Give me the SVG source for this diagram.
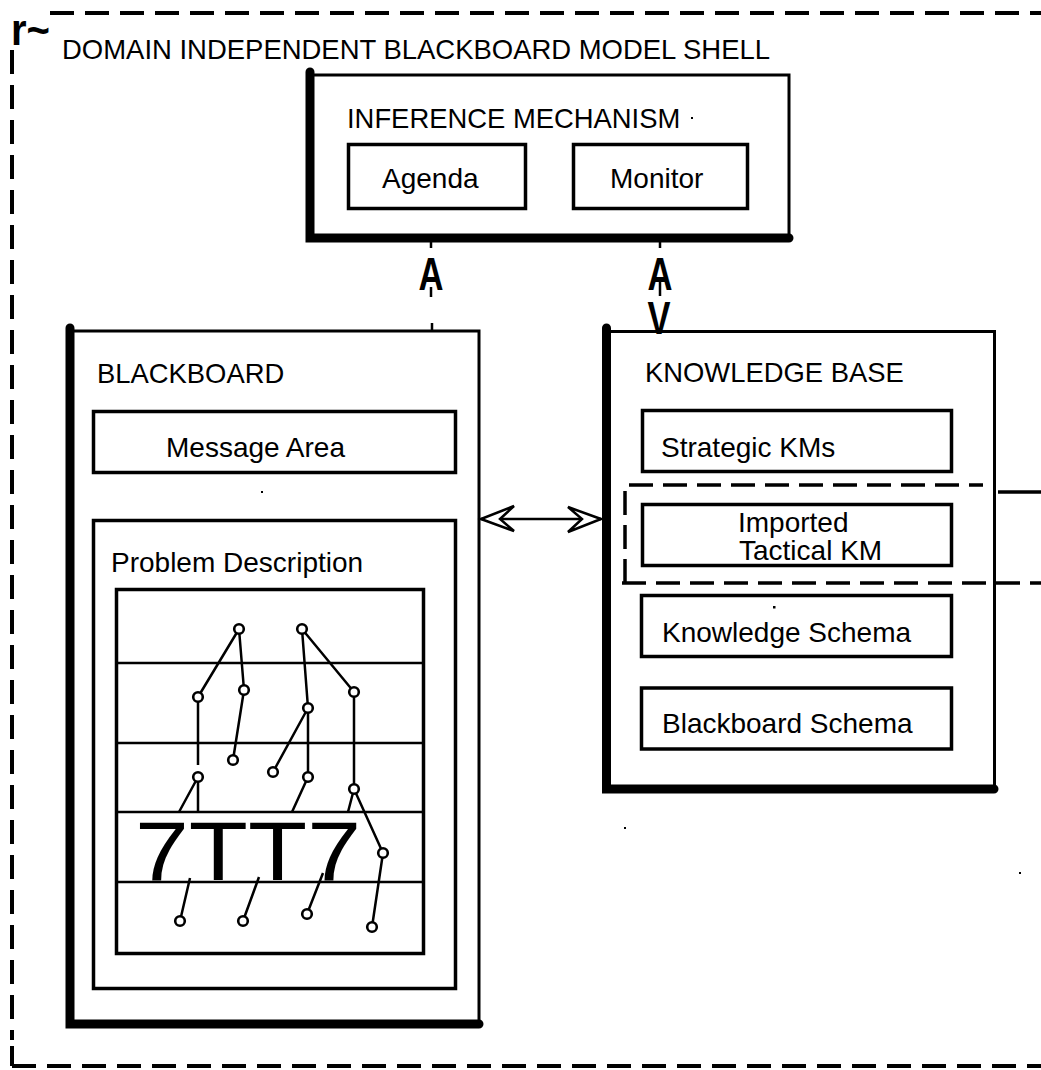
<svg xmlns="http://www.w3.org/2000/svg" width="1041" height="1070" viewBox="0 0 1041 1070">
  <style>
    .frame { fill: none; stroke: #000; stroke-width: 4; stroke-dasharray: 24 11; }
    .dash { fill: none; stroke: #000; stroke-width: 3.5; stroke-dasharray: 24 10; }
    .box { fill: none; stroke: #000; stroke-width: 3; }
    .inner { fill: none; stroke: #000; stroke-width: 3.5; }
    .heavy { fill: none; stroke: #000; stroke-width: 9; stroke-linecap: round; }
    .rule { fill: none; stroke: #000; stroke-width: 2.5; }
    .edge { fill: none; stroke: #000; stroke-width: 2.5; }
    .node { fill: #fff; stroke: #000; stroke-width: 2.6; }
    .conn { fill: none; stroke: #000; stroke-width: 2.5; }
    .head { font-family: "Liberation Sans", Arial, sans-serif; font-size: 27.4px; fill: #000; }
    .label { font-family: "Liberation Sans", Arial, sans-serif; font-size: 28px; fill: #000; }
    .glyph { font-family: "Liberation Sans", Arial, sans-serif; font-weight: bold; font-size: 46px; fill: #000; text-anchor: middle; }
    .speck { fill: #000; }
  </style>
  <defs>
    <marker id="openHead" viewBox="-36 -15 40 30" refX="0" refY="0" markerWidth="40" markerHeight="30" markerUnits="userSpaceOnUse" orient="auto-start-reverse">
      <path d="M0,0 L-33,-12 L-19,0 L-33,13 Z" fill="#fff" stroke="#000" stroke-width="2.5" stroke-linejoin="miter"/>
    </marker>
  </defs>

  <rect width="1041" height="1070" fill="#fff"/>

  <!-- outer dashed shell boundary -->
  <g id="shell">
    <path class="frame" d="M50,13 H1041"/>
    <path class="frame" d="M12,50 V1040"/>
    <path d="M12,1046 V1066" stroke="#000" stroke-width="4" fill="none"/>
    <path class="frame" d="M12,1066 H1041"/>
    <text x="11" y="45" class="glyph" style="text-anchor:start;font-size:44px" textLength="39" lengthAdjust="spacingAndGlyphs">r~</text>
    <text x="62" y="59" class="head" textLength="708" lengthAdjust="spacingAndGlyphs">DOMAIN INDEPENDENT BLACKBOARD MODEL SHELL</text>
  </g>

  <!-- inference mechanism -->
  <g id="inference-mechanism">
    <rect class="box" x="310" y="75" width="479" height="162"/>
    <path class="heavy" d="M310,72 V238 H789"/>
    <text x="347" y="128" class="head">INFERENCE MECHANISM</text>
    <rect class="speck" x="691" y="117" width="2" height="2"/>
    <g id="agenda">
      <rect class="inner" x="348.5" y="144.5" width="177" height="64"/>
      <text x="382" y="188" class="label">Agenda</text>
    </g>
    <g id="monitor">
      <rect class="inner" x="573.5" y="144.5" width="174" height="64"/>
      <text x="610" y="188" class="label">Monitor</text>
    </g>
  </g>

  <!-- blackboard -->
  <g id="blackboard">
    <rect class="box" x="70" y="331" width="409" height="693"/>
    <path class="heavy" d="M70,328 V1024 H479"/>
    <text x="97" y="383" class="head">BLACKBOARD</text>
    <g id="message-area">
      <rect class="inner" x="93.5" y="411.5" width="362" height="61"/>
      <text x="166" y="457" class="label">Message Area</text>
    </g>
    <rect class="speck" x="261" y="491" width="2" height="2"/>
    <g id="problem-description">
      <rect class="inner" x="93.5" y="520.5" width="362" height="468"/>
      <text x="111" y="572" class="label">Problem Description</text>
      <!-- layered hypothesis grid -->
      <rect class="inner" x="116.5" y="589.5" width="307" height="364"/>
      <path class="rule" d="M116,663 H425 M116,743 H425 M116,812 H425 M116,882 H425"/>
      <text x="135" y="880" class="label" style="font-size:84px" textLength="226" lengthAdjust="spacingAndGlyphs">7TT7</text>
      <path class="edge" d="M239,629 L198,697 M239,629 L244,690 M302,629 L308,708 M302,629 L354,692
        M198,697 V765 M244,690 L233,760 M308,708 L273,772 M308,708 V777 M354,692 V789
        M198,777 L179,812 M198,777 V812 M308,777 L292,812 M354,789 L348,812
        M354,789 L383,853 M383,853 L372,927
        M180,921 L190,878 M243,921 L259,877 M307,914 L323,873"/>
      <g>
        <circle class="node" cx="239" cy="629" r="4.8"/>
        <circle class="node" cx="302" cy="629" r="4.8"/>
        <circle class="node" cx="198" cy="697" r="4.8"/>
        <circle class="node" cx="244" cy="690" r="4.8"/>
        <circle class="node" cx="354" cy="692" r="4.8"/>
        <circle class="node" cx="308" cy="708" r="4.8"/>
        <circle class="node" cx="233" cy="760" r="4.8"/>
        <circle class="node" cx="273" cy="772" r="4.8"/>
        <circle class="node" cx="198" cy="777" r="4.8"/>
        <circle class="node" cx="308" cy="777" r="4.8"/>
        <circle class="node" cx="354" cy="789" r="4.8"/>
        <circle class="node" cx="383" cy="853" r="4.8"/>
        <circle class="node" cx="180" cy="921" r="4.8"/>
        <circle class="node" cx="243" cy="921" r="4.8"/>
        <circle class="node" cx="307" cy="914" r="4.8"/>
        <circle class="node" cx="372" cy="927" r="4.8"/>
      </g>
    </g>
  </g>

  <!-- knowledge base -->
  <g id="knowledge-base">
    <rect class="box" x="606.5" y="331.5" width="388" height="457.5"/>
    <path class="heavy" d="M606.5,328 V789 H994"/>
    <text x="645" y="382" class="head">KNOWLEDGE BASE</text>
    <g id="strategic-kms">
      <rect class="inner" x="642.5" y="410.5" width="309" height="61"/>
      <text x="661" y="457" class="label">Strategic KMs</text>
    </g>
    <g id="imported-tactical-km">
      <path class="dash" d="M625,583 V485 H983"/>
      <path class="dash" d="M622,583 H1041"/>
      <path d="M998,492 H1041" stroke="#000" stroke-width="3.5"/>
      <rect class="inner" x="642.5" y="504.5" width="309" height="61"/>
      <text x="738" y="532" class="label">Imported</text>
      <text x="739" y="560" class="label">Tactical KM</text>
    </g>
    <g id="knowledge-schema">
      <rect class="inner" x="641.5" y="595.5" width="310" height="61"/>
      <rect class="speck" x="773" y="606" width="2.5" height="2.5"/>
      <text x="662" y="642" class="label">Knowledge Schema</text>
    </g>
    <g id="blackboard-schema">
      <rect class="inner" x="641.5" y="688" width="310" height="61"/>
      <text x="662" y="733" class="label">Blackboard Schema</text>
    </g>
  </g>

  <!-- connectors -->
  <g id="connectors">
    <!-- blackboard to inference mechanism -->
    <path class="conn" d="M431,241 V248 M431,287 V297 M432,323 V330"/>
    <text x="431" y="290" class="glyph" textLength="25" lengthAdjust="spacingAndGlyphs">A</text>
    <!-- inference mechanism to knowledge base -->
    <path class="conn" d="M660,241 V248 M660,280 V296"/>
    <text x="660" y="290" class="glyph" textLength="25" lengthAdjust="spacingAndGlyphs">A</text>
    <text x="659" y="334" class="glyph" textLength="23" lengthAdjust="spacingAndGlyphs">V</text>
    <!-- blackboard to knowledge base -->
    <path class="conn" d="M481,519 H601" marker-start="url(#openHead)" marker-end="url(#openHead)"/>
  </g>

  <rect class="speck" x="624" y="827" width="2" height="2"/>
  <rect class="speck" x="1019" y="872" width="2" height="2"/>
</svg>
